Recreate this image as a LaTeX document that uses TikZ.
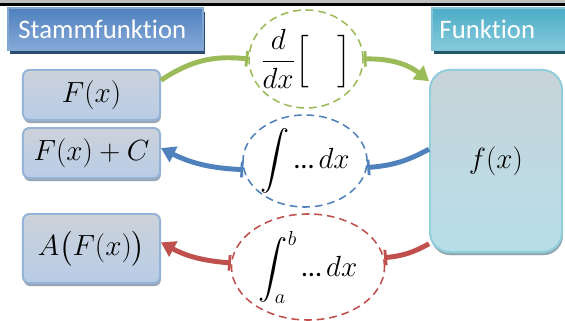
\documentclass[tikz,border=0pt]{standalone}
\usepackage{amsmath}
\usepackage{fontspec}
\setmainfont[Ligatures=NoCommon]{Carlito}
\usetikzlibrary{arrows.meta, shapes.geometric, positioning}
\definecolor{boxtop}{HTML}{CCD2DA}
\definecolor{boxbot}{HTML}{B8CCE6}
\definecolor{boxedge}{HTML}{95B3D7}
\definecolor{boxshade}{HTML}{9AA6B6}
\definecolor{ftop}{HTML}{C8D4DA}
\definecolor{fbot}{HTML}{B7DEE8}
\definecolor{fedge}{HTML}{92CDDC}
\definecolor{fshade}{HTML}{93A9B0}
\definecolor{stammtop}{HTML}{4F81BD}
\definecolor{stammbot}{HTML}{86A9D8}
\definecolor{stammshade}{HTML}{2B4B73}
\definecolor{funktop}{HTML}{4BACC6}
\definecolor{funkbot}{HTML}{86CADC}
\definecolor{funkshade}{HTML}{215967}
\definecolor{greenline}{HTML}{9BBB59}
\definecolor{blueline}{HTML}{4F81BD}
\definecolor{redline}{HTML}{C0504D}
\newcommand{\rulelabel}[1]{\makebox[0pt]{$\displaystyle #1$}}
\tikzset{
  headbox/.style={rectangle, inner sep=0pt, text=white,
    font=\fontsize{19}{22}\selectfont, line width=0.8pt},
  termbox/.style={rectangle, rounded corners=4.5pt, inner sep=0pt,
    draw=boxedge, line width=1.4pt, top color=boxtop, bottom color=boxbot,
    minimum width=3.425cm, minimum height=1.25cm,
    preaction={fill=boxshade, transform canvas={xshift=0.6pt, yshift=-2.2pt}},
    font=\fontsize{20}{24}\selectfont},
  rulebox/.style={ellipse, inner sep=0pt, fill=white, line width=1.1pt,
    dash pattern=on 5.5pt off 3.5pt, font=\fontsize{20}{24}\selectfont},
  cut/.style={line width=3.5pt, -{Bar[width=11pt, line width=2pt]}},
  link/.style={line width=3.5pt,
    {Bar[width=11pt, line width=2pt]}-{Triangle[length=10pt, width=12pt]}}
}
\begin{document}
\begin{tikzpicture}[x=0.025cm, y=0.025cm]
  \clip (0,0) rectangle (565,321);
  \fill[white] (0,0) rectangle (565,321);
  % top edge
  \fill[black!25] (0,317.7) rectangle (565,321);
  \fill[black] (0,315.3) rectangle (565,317.7);

  % headings
  \node[headbox, draw=stammtop!70!white, top color=stammtop, bottom color=stammbot,
    minimum width=4.875cm, minimum height=1.05cm, text width=4.35cm, align=left,
    preaction={fill=stammshade, transform canvas={xshift=1.4pt, yshift=-2.8pt}}]
    (stamm) at (105.5,292) {Stammfunktion};
  \node[headbox, draw=funktop!70!white, top color=funktop, bottom color=funkbot,
    minimum width=3.575cm, minimum height=1.05cm, text width=3.2cm, align=left,
    preaction={fill=funkshade, transform canvas={xshift=1.4pt, yshift=-2.8pt}}]
    (funk) at (503.5,292) {Funktion};

  % Stammfunktionen
  \node[termbox] (Fx) at (91.5,226) {$F(x)$};
  \node[termbox] (FxC) at (91.5,168) {$F(x)+C$};
  \node[termbox, minimum height=1.725cm] (AFx) at (91.5,72.5) {$A\bigl(F(x)\bigr)$};

  % Funktion
  \node[termbox, rounded corners=14pt, draw=fedge, top color=ftop, bottom color=fbot,
    minimum width=3.3cm, minimum height=4.55cm,
    preaction={fill=fshade, transform canvas={xshift=0.6pt, yshift=-2.2pt}}]
    (fx) at (496,160) {$f(x)$};

  % Regeln
  \node[rulebox, draw=greenline, minimum width=2.85cm, minimum height=2.45cm]
    (ddx) at (306,262) {\rulelabel{\frac{d}{dx}\Big[\quad\Big]}};
  \node[rulebox, draw=blueline, minimum width=3.1cm, minimum height=2.3cm]
    (int) at (305,160) {\rulelabel{\int \text{…}\,dx}};
  \node[rulebox, draw=redline, minimum width=3.825cm, minimum height=2.65cm]
    (intab) at (308,54) {\rulelabel{\int_a^b \text{…}\,dx}};

  % ableiten
  \draw[cut, greenline] (Fx.12) to[bend left=20] (ddx.west);
  \draw[link, greenline] (ddx.east) to[bend left=20] (fx.130);
  % integrieren
  \draw[cut, blueline] (fx.170) to[bend left=12] (int.-6);
  \draw[link, blueline] (int.188) to[bend left=12] (FxC.4);
  % bestimmt
  \draw[cut, redline] (fx.231) to[bend left=12] (intab.7);
  \draw[link, redline] (intab.177) to[bend left=12] (AFx.5);
\end{tikzpicture}
\end{document}
